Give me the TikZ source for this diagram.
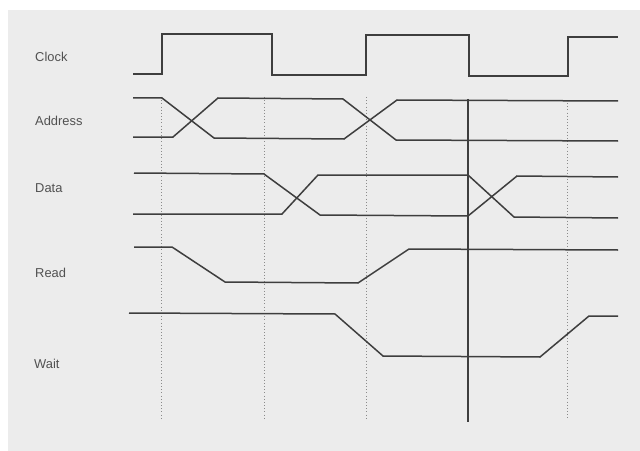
\documentclass[tikz,border=0pt]{standalone}
\usepackage{fontspec}
\setmainfont{Liberation Sans}
\usetikzlibrary{positioning}
\definecolor{paper}{RGB}{236,236,236}
\definecolor{ink}{RGB}{62,62,62}
\tikzset{
  siglabel/.style={anchor=west, inner sep=0pt, text=ink!90,
                   font=\fontsize{11}{13}\selectfont},
  wave/.style={draw=ink, line width=0.45mm, line join=miter},
  guide/.style={draw=ink!60, dotted, line width=0.25mm},
  marker/.style={draw=ink, line width=0.4mm},
}

\begin{document}
\begin{tikzpicture}[x=0.03cm, y=-0.03cm]
  \useasboundingbox (0,0) rectangle (640,451);
  \fill[white] (0,0) rectangle (640,451);
  \fill[paper] (8,10) rectangle (640,451);

  % signal names
  \node[siglabel] (clk)  at (35,57)  {Clock};
  \node[siglabel] (addr) at (35,121) {Address};
  \node[siglabel] (data) at (35,188) {Data};
  \node[siglabel] (rd)   at (35,273) {Read};
  \node[siglabel] (wt)   at (34,364) {Wait};

  % clock edges (dotted)
  \foreach \x/\y in {161/97, 264/97, 366/97, 567/103}
    \draw[guide] (\x,\y) -- (\x,418);
  % sample point
  \draw[marker] (468,99) -- (468,422);

  % Clock
  \draw[wave] (133,74) -- (162,74) -- (162,34) -- (272,34) -- (272,75)
      -- (366,75) -- (366,35) -- (469,35) -- (469,76) -- (568,76)
      -- (568,37) -- (618,37);

  % Address
  \draw[wave] (133,98) -- (162,98) -- (214,138) -- (344,139) -- (397,100) -- (618,101);
  \draw[wave] (133,137) -- (173,137) -- (218,98) -- (343,99) -- (396,140) -- (618,141);

  % Data
  \draw[wave] (134,173) -- (264,174) -- (320,215) -- (468,216) -- (517,176) -- (618,177);
  \draw[wave] (133,214) -- (282,214) -- (318,175) -- (468,175) -- (514,217) -- (618,218);

  % Read
  \draw[wave] (134,247) -- (172,247) -- (225,282) -- (358,283) -- (409,249) -- (618,250);

  % Wait
  \draw[wave] (129,313) -- (335,314) -- (383,356) -- (540,357) -- (589,316) -- (618,316);
\end{tikzpicture}
\end{document}
